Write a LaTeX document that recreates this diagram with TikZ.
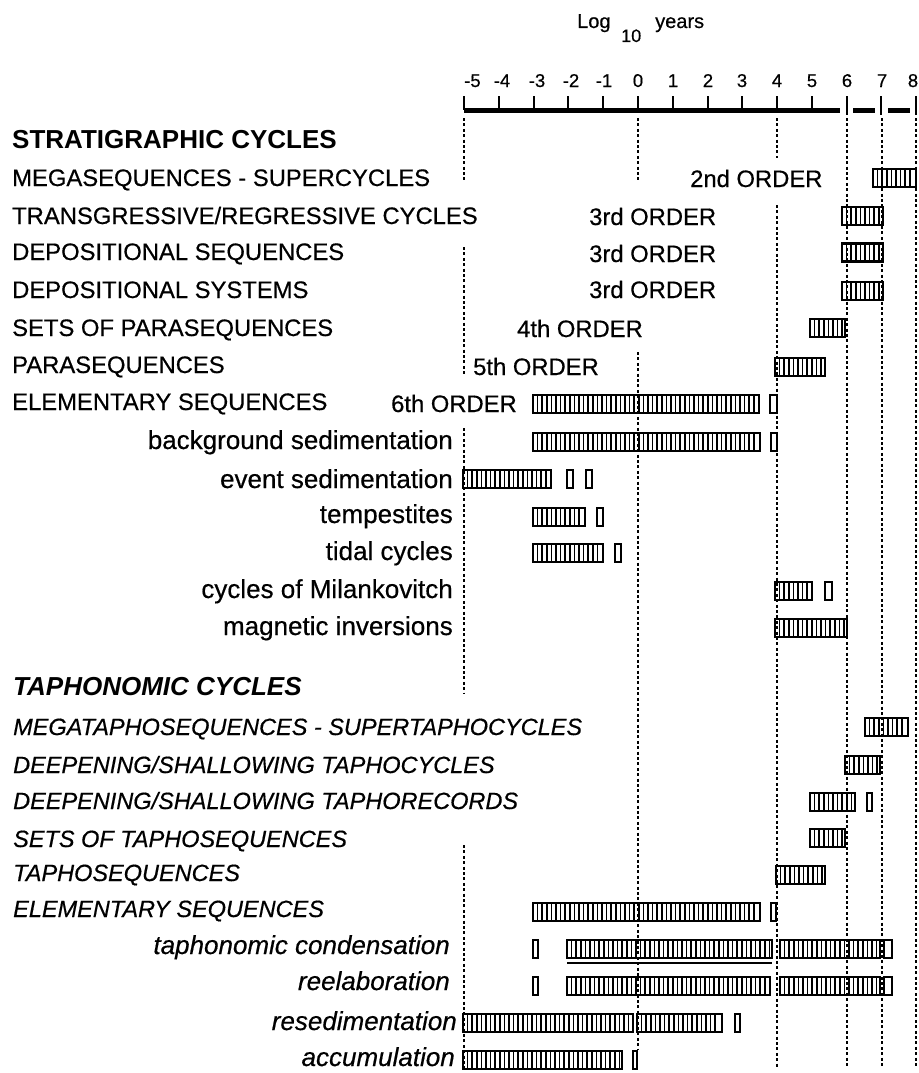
\documentclass[tikz,border=0pt]{standalone}
\usepackage{fontspec}
\setmainfont{Liberation Sans}[UprightFeatures={FakeBold=0.5},ItalicFeatures={FakeBold=0.5}]
\newcommand{\tbar}[3]{%
  \pgfmathsetmacro{\ta}{#1+4.6}%
  \pgfmathsetmacro{\tb}{#1+9.2}%
  \pgfmathsetmacro{\te}{#2-2.5}%
  \foreach \xx in {\ta,\tb,...,\te}{\draw[hatch] (\xx,#3-9) -- (\xx,#3+9);}%
  \draw[barframe] (#1,#3-9) rectangle (#2,#3+9);%
}
\newcommand{\sbar}[3]{\draw[barframe] (#1,#3-9) rectangle (#2,#3+9);}
\begin{document}
\begin{tikzpicture}[x=1pt,y=-1pt,
  guide/.style={line width=1.3pt, dash pattern=on 3pt off 2.4pt},
  barframe/.style={line width=2.3pt},
  hatch/.style={line width=1.6pt},
  axisline/.style={line width=5pt},
  tickline/.style={line width=2pt},
  lab/.style={inner sep=0pt, anchor=base west, font=\fontsize{23.8}{28}\selectfont},
  ilab/.style={inner sep=0pt, anchor=base west, font=\fontsize{23.5}{28}\selectfont\itshape},
  head/.style={inner sep=0pt, anchor=base west, font=\fontsize{26}{30}\selectfont\bfseries},
  sub/.style={inner sep=0pt, anchor=base east, font=\fontsize{26}{30}\selectfont},
  isub/.style={inner sep=0pt, anchor=base east, font=\fontsize{26}{30}\selectfont\itshape},
  num/.style={inner sep=0pt, anchor=base, font=\fontsize{18.5}{22}\selectfont},
]
\useasboundingbox (0,0) rectangle (918,1073);

% ---- axis title
\node[inner sep=0pt, anchor=base west, font=\fontsize{20}{22}\selectfont] (logA) at (577,28) {Log};
\node[inner sep=0pt, anchor=base west, font=\fontsize{18}{22}\selectfont] (logB) at (621,42) {10};
\node[inner sep=0pt, anchor=base west, font=\fontsize{20}{22}\selectfont] (logC) at (655,28) {years};

% ---- tick labels
\node[num, anchor=base west] (n1) at (464,87) {-5};
\node[num] (n2) at (502,87) {-4};
\node[num] (n3) at (537,87) {-3};
\node[num] (n4) at (571,87) {-2};
\node[num] (n5) at (604,87) {-1};
\node[num] (n6) at (638,87) {0};
\node[num] (n7) at (673,87) {1};
\node[num] (n8) at (708,87) {2};
\node[num] (n9) at (742,87) {3};
\node[num] (n10) at (777,87) {4};
\node[num] (n11) at (812,87) {5};
\node[num] (n12) at (847,87) {6};
\node[num] (n13) at (882,87) {7};
\node[num] (n14) at (913,87) {8};

% ---- axis
\draw[axisline] (464,110.5) -- (840,110.5);
\draw[axisline] (853,110.5) -- (875,110.5);
\draw[axisline] (888,110.5) -- (910,110.5);
\foreach \v in {-5,...,5} \draw[tickline] ({638+34.77*\v},96) -- ({638+34.77*\v},110);
\foreach \v in {6,7,8} \draw[tickline] ({638+34.77*\v},96) -- ({638+34.77*\v},115);

% ---- dashed guides
\draw[guide] (464,118) -- (464,182);
\draw[guide] (464,247) -- (464,375);
\draw[guide] (464,428) -- (464,693);
\draw[guide] (464,845) -- (464,1068);
\draw[guide] (638,118) -- (638,182);
\draw[guide] (638,352) -- (638,1050);
\draw[guide] (777,118) -- (777,158);
\draw[guide] (777,205) -- (777,1068);
\draw[guide] (847,118) -- (847,1068);
\draw[guide] (882,118) -- (882,1068);
\draw[guide] (916,118) -- (916,1068);

% ---- stratigraphic labels
\node[head] (hStrat) at (12,148) {STRATIGRAPHIC CYCLES};
\node[lab] (lMega) at (12,186) {MEGASEQUENCES - SUPERCYCLES};
\node[lab] (lTrans) at (12,224) {TRANSGRESSIVE/REGRESSIVE CYCLES};
\node[lab] (lDepSeq) at (12,260) {DEPOSITIONAL SEQUENCES};
\node[lab] (lDepSys) at (12,298) {DEPOSITIONAL SYSTEMS};
\node[lab] (lSets) at (12,336) {SETS OF PARASEQUENCES};
\node[lab] (lPara) at (12,373) {PARASEQUENCES};
\node[lab] (lElem) at (12,410) {ELEMENTARY SEQUENCES};
\node[sub] (lBack) at (453,449) {background sedimentation};
\node[sub] (lEvent) at (453,488) {event sedimentation};
\node[sub] (lTemp) at (453,523) {tempestites};
\node[sub] (lTidal) at (453,560) {tidal cycles};
\node[sub] (lMilan) at (453,598) {cycles of Milankovitch};
\node[sub] (lMagn) at (453,635) {magnetic inversions};

% ---- order labels
\node[lab] (o2) at (690,187) {2nd ORDER};
\node[lab] (o3a) at (589,225) {3rd ORDER};
\node[lab] (o3b) at (589,262) {3rd ORDER};
\node[lab] (o3c) at (589,298) {3rd ORDER};
\node[lab] (o4) at (517,337) {4th ORDER};
\node[lab] (o5) at (473,375) {5th ORDER};
\node[lab, anchor=base east] (o6) at (517,412) {6th ORDER};

% ---- taphonomic labels
\node[head, font=\fontsize{26}{30}\selectfont\bfseries\itshape] (hTaph) at (13,695) {TAPHONOMIC CYCLES};
\node[ilab] (tMega) at (13,735) {MEGATAPHOSEQUENCES - SUPERTAPHOCYCLES};
\node[ilab] (tDeepC) at (13,773) {DEEPENING/SHALLOWING TAPHOCYCLES};
\node[ilab] (tDeepR) at (13,809) {DEEPENING/SHALLOWING TAPHORECORDS};
\node[ilab] (tSets) at (13,847) {SETS OF TAPHOSEQUENCES};
\node[ilab] (tSeq) at (13,881) {TAPHOSEQUENCES};
\node[ilab] (tElem) at (13,917) {ELEMENTARY SEQUENCES};
\node[isub] (tCond) at (450,954) {taphonomic condensation};
\node[isub] (tReel) at (450,990) {reelaboration};
\node[isub] (tResed) at (457,1030) {resedimentation};
\node[isub] (tAccum) at (455,1066) {accumulation};

% ---- stratigraphic bars
\tbar{873}{916}{178}
\tbar{842}{883}{216}
\tbar{842}{883}{252.5}
\tbar{842}{883}{291}
\tbar{810}{845}{328}
\tbar{775}{825}{367}
\tbar{533}{759}{404} \sbar{770}{777}{404}
\tbar{533}{760}{442} \sbar{771}{777}{442}
\tbar{463}{551}{479} \sbar{567}{573}{479} \sbar{586}{592}{479}
\tbar{533}{585}{517} \sbar{597}{603}{517}
\tbar{533}{603}{553} \sbar{615}{621}{553}
\tbar{775}{812}{591} \sbar{825}{832}{591}
\tbar{775}{847}{628}

% ---- taphonomic bars
\tbar{865}{908}{727}
\tbar{845}{880}{765}
\tbar{810}{855}{802} \sbar{867}{872}{802}
\tbar{810}{845}{838}
\tbar{776}{825}{875}
\tbar{533}{760}{912} \sbar{771}{776}{912}
\sbar{533}{538}{949} \tbar{567}{772}{949} \tbar{780}{880}{949} \sbar{884}{892}{949}
\draw[barframe] (567,963) -- (772,963);
\sbar{533}{538}{986} \tbar{567}{770}{986} \tbar{780}{880}{986} \sbar{884}{892}{986}
\tbar{463}{633}{1023} \tbar{637}{722}{1023} \sbar{735}{740}{1023}
\tbar{463}{622}{1060} \sbar{633}{637}{1060}
\end{tikzpicture}
\end{document}
